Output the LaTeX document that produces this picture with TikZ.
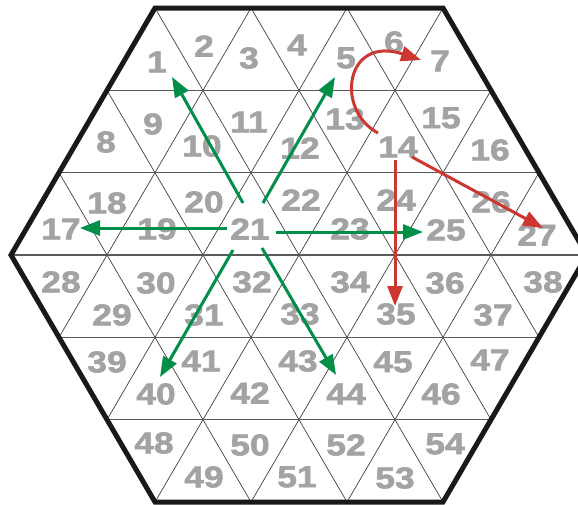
\documentclass[tikz,border=0pt]{standalone}
\usepackage{fontspec}
\usetikzlibrary{arrows.meta}
\newfontfamily\numfont[FakeStretch=1.18,FakeBold=2]{Liberation Sans Bold}
\definecolor{numgray}{RGB}{163,163,163}
\definecolor{arrgreen}{RGB}{0,142,72}
\definecolor{arrred}{RGB}{205,55,50}
\begin{document}
\begin{tikzpicture}[x=1pt,y=-1pt,
  num/.style={font=\numfont\fontsize{30}{30}\selectfont, text=numgray, inner sep=0pt},
  garrow/.style={draw=arrgreen, line width=3pt, -{Triangle[length=20pt,width=15pt]}},
  rarrow/.style={draw=arrred, line width=3pt, -{Triangle[length=20pt,width=15pt]}},
  gridline/.style={draw=black!75, line width=0.7pt},
  rowline/.style={draw=black!65, line width=1.4pt},
  hexborder/.style={draw=black!90, line width=5pt, line join=miter}]
\useasboundingbox (0,0) rectangle (578,504);
\clip (0,0) rectangle (578,504);
\fill[white] (0,0) rectangle (578,504);
\coordinate (H1) at (155,8);
\coordinate (H2) at (443,8);
\coordinate (H3) at (587,255);
\coordinate (H4) at (443,502);
\coordinate (H5) at (155,502);
\coordinate (H6) at (11,255);
\begin{scope}
  \clip (H1)--(H2)--(H3)--(H4)--(H5)--(H6)--cycle;
  \foreach \j in {-5,...,5} {
    \draw[gridline] ({299+96*\j-144},502) -- ({299+96*\j+144},8);
    \draw[gridline] ({299+96*\j+144},502) -- ({299+96*\j-144},8);
  }
  \foreach \yy in {90.3,172.6,255,337.3,419.6}
    \draw[rowline] (0,\yy) -- (600,\yy);
\end{scope}
\draw[hexborder] (H1)--(H2)--(H3)--(H4)--(H5)--(H6)--cycle;
\foreach \n/\x/\y in {
  1/157/62, 2/204/46, 3/249/58, 4/297/45, 5/346/58, 6/394/42, 7/440/61,
  8/106/142, 9/153/124, 10/202/146, 11/249/122, 12/300/148, 13/345/119, 14/398/147, 15/441/118, 16/490/150,
  17/61/229, 18/107/203, 19/157/229, 20/204/202, 21/250/229, 22/301/200, 23/350/229, 24/396/200, 25/446/230, 26/491/202, 27/537/235,
  28/61/282, 29/112/315, 30/156/283, 31/204/315, 32/252/282, 33/300/314, 34/350/282, 35/396/314, 36/445/283, 37/493/315, 38/543/282,
  39/107/362, 40/156/394, 41/201/361, 42/250/393, 43/298/361, 44/346/394, 45/393/362, 46/441/394, 47/490/360,
  48/154/443, 49/204/477, 50/250/445, 51/297/477, 52/346/445, 53/395/478, 54/445/444}
  \node[num] (n\n) at (\x,\y) {\n};
% arrow end points
\coordinate (g1s) at (243,203);  \coordinate (g1e) at (172,77);
\coordinate (g5s) at (263,203);  \coordinate (g5e) at (335,77);
\coordinate (g17s) at (227,228); \coordinate (g17e) at (80,228);
\coordinate (g25s) at (276,232); \coordinate (g25e) at (423,232);
\coordinate (g40s) at (233,250); \coordinate (g40e) at (160,377);
\coordinate (g44s) at (262,248); \coordinate (g44e) at (336,375);
\coordinate (r35s) at (395,160); \coordinate (r35e) at (395,306);
\coordinate (r27s) at (412,157); \coordinate (r27e) at (543,228);
\coordinate (r7s) at (378,133);  \coordinate (r7e) at (421,60);
\draw[garrow] (g1s) -- (g1e);
\draw[garrow] (g5s) -- (g5e);
\draw[garrow] (g17s) -- (g17e);
\draw[garrow] (g25s) -- (g25e);
\draw[garrow] (g40s) -- (g40e);
\draw[garrow] (g44s) -- (g44e);
\draw[rarrow] (r35s) -- (r35e);
\draw[rarrow] (r27s) -- (r27e);
\draw[rarrow] (r7s) .. controls (335,110) and (345,35) .. (r7e);
\end{tikzpicture}
\end{document}
